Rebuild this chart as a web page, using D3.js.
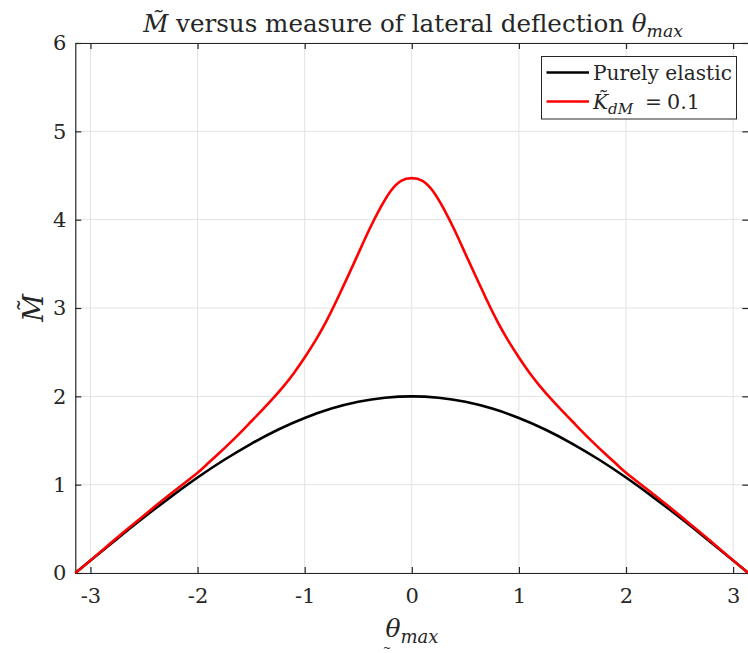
<!DOCTYPE html>
<html>
<head>
<meta charset="utf-8">
<script src="https://cdn.jsdelivr.net/npm/d3@7"></script>
<style>
  body { margin: 0; background: #fff; }
  svg { display: block; }
  text { font-family: "DejaVu Serif", serif; fill: #262626; }
</style>
</head>
<body>
<svg id="chart" width="748" height="653"></svg>
<script>
// Purely elastic response
const thetaElastic = [-3.1416, -3, -2.75, -2.5, -2.25, -2, -1.75, -1.5, -1.25, -1, -0.75, -0.5, -0.25, 0,
                      0.25, 0.5, 0.75, 1, 1.25, 1.5, 1.75, 2, 2.25, 2.5, 2.75, 3, 3.1416];
const mElastic = [0, 0.142, 0.389, 0.631, 0.862, 1.081, 1.282, 1.463, 1.622, 1.755, 1.861, 1.938, 1.984, 2.0,
                  1.984, 1.938, 1.861, 1.755, 1.622, 1.463, 1.282, 1.081, 0.862, 0.631, 0.389, 0.142, 0];

// Response with K_dM = 0.1
const thetaDamped = [-3.1416, -3.0, -2.8, -2.6, -2.4, -2.2, -2.0, -1.9, -1.8, -1.7, -1.6, -1.5, -1.4, -1.3, -1.2,
                     -1.1, -1.0, -0.9, -0.8, -0.7, -0.6, -0.5, -0.4, -0.3, -0.2, -0.1, 0,
                     0.1, 0.2, 0.3, 0.4, 0.5, 0.6, 0.7, 0.8, 0.9, 1.0, 1.1, 1.2, 1.3, 1.4, 1.5,
                     1.6, 1.7, 1.8, 1.9, 2.0, 2.2, 2.4, 2.6, 2.8, 3.0, 3.1416];
const mDamped = [0, 0.143, 0.35, 0.553, 0.752, 0.945, 1.135, 1.245, 1.355, 1.47, 1.59, 1.715, 1.84, 1.97, 2.11,
                 2.265, 2.44, 2.63, 2.845, 3.09, 3.35, 3.615, 3.88, 4.12, 4.32, 4.44, 4.47,
                 4.44, 4.32, 4.12, 3.88, 3.615, 3.35, 3.09, 2.845, 2.63, 2.44, 2.265, 2.11, 1.97, 1.84, 1.715,
                 1.59, 1.47, 1.355, 1.245, 1.135, 0.945, 0.752, 0.553, 0.35, 0.143, 0];

const xTicks = [-3, -2, -1, 0, 1, 2, 3];
const yTicks = [0, 1, 2, 3, 4, 5, 6];
const seriesNames = ["Purely elastic", "K_dM = 0.1"];
const seriesColors = ["#000000", "#ff0000"];

const svg = d3.select("#chart");
const L = 75.3, R = 748.3, T = 43, B = 573;
const axisColor = "#262626";
const gridColor = "#e3e3e3";
const serif = '"DejaVu Serif", serif';

const x = d3.scaleLinear().domain([-3.1416, 3.1416]).range([L, R]);
const y = d3.scaleLinear().domain([0, 6]).range([B, T]);

// grid
const grid = svg.append("g");
grid.selectAll(".gx").data(xTicks).join("line")
  .attr("x1", d => x(d)).attr("x2", d => x(d)).attr("y1", T).attr("y2", B)
  .attr("stroke", gridColor).attr("stroke-width", 1);
grid.selectAll(".gy").data(yTicks).join("line")
  .attr("y1", d => y(d)).attr("y2", d => y(d)).attr("x1", L).attr("x2", R)
  .attr("stroke", gridColor).attr("stroke-width", 1);

// axes (ticks pointing inward, mirrored on top and right)
const tickLen = 6;
const tickFont = 21;
const plainNum = d => String(d);
const styleAxis = g => {
  g.attr("font-family", serif).attr("font-size", tickFont);
  g.select(".domain").attr("stroke", axisColor).attr("stroke-width", 1.2);
  g.selectAll(".tick line").attr("stroke", axisColor).attr("stroke-width", 1.2);
  g.selectAll(".tick text").attr("fill", axisColor)
    .style("font-family", serif).style("font-size", tickFont + "px");
};
svg.append("g").attr("transform", `translate(0,${B})`)
  .call(d3.axisBottom(x).tickValues(xTicks).tickSizeInner(-tickLen).tickSizeOuter(0).tickPadding(13)
    .tickFormat(plainNum))
  .call(styleAxis)
  .call(g => g.selectAll(".tick text").attr("dy", "0.8em"));
svg.append("g").attr("transform", `translate(0,${T})`)
  .call(d3.axisTop(x).tickValues(xTicks).tickSizeInner(-tickLen).tickSizeOuter(0).tickFormat(""))
  .call(styleAxis);
svg.append("g").attr("transform", `translate(${L},0)`)
  .call(d3.axisLeft(y).tickValues(yTicks).tickSizeInner(-tickLen).tickSizeOuter(0).tickPadding(9)
    .tickFormat(plainNum))
  .call(styleAxis);
svg.append("g").attr("transform", `translate(${R},0)`)
  .call(d3.axisRight(y).tickValues(yTicks).tickSizeInner(-tickLen).tickSizeOuter(0).tickFormat(""))
  .call(styleAxis);

// curves
const line = d3.line().x(d => x(d[0])).y(d => y(d[1])).curve(d3.curveNatural);
const plotArea = svg.append("g");
plotArea.append("path")
  .datum(d3.zip(thetaElastic, mElastic))
  .attr("d", line).attr("fill", "none")
  .attr("stroke", seriesColors[0]).attr("stroke-width", 2.6).attr("stroke-linejoin", "round");
plotArea.append("path")
  .datum(d3.zip(thetaDamped, mDamped))
  .attr("d", line).attr("fill", "none")
  .attr("stroke", seriesColors[1]).attr("stroke-width", 2.6).attr("stroke-linejoin", "round");

// scale a text's font sizes so its rendered width matches a target width
function fitWidth(textSel, target, baseSizes) {
  const w = textSel.node().getComputedTextLength();
  const k = target / w;
  textSel.selectAll("tspan").each(function (_, i) {
    d3.select(this).style("font-size", (baseSizes[i] * k) + "px");
  });
  return k;
}

// title
const title = svg.append("text").attr("x", 413).attr("y", 32).attr("text-anchor", "middle");
const titleSizes = [20, 20, 20, 14];
title.append("tspan").style("font-style", "italic").style("font-size", "20px").text("M\u0303");
title.append("tspan").style("font-size", "20px").text(" versus measure of lateral deflection ");
title.append("tspan").style("font-style", "italic").style("font-size", "20px").text("\u03B8");
const titleSub = title.append("tspan").style("font-style", "italic").style("font-size", "14px").text("max");
const tk = fitWidth(title, 540, titleSizes);
titleSub.attr("dy", 4 * tk);

// x label
const xl = svg.append("text").attr("x", 412).attr("y", 637).attr("text-anchor", "middle");
xl.append("tspan").style("font-style", "italic").style("font-size", "25px").text("\u03B8");
xl.append("tspan").style("font-style", "italic").style("font-size", "18px").attr("dy", 6).text("max");
// small tilde at the bottom edge
svg.append("text").attr("x", 387).attr("y", 650.5).attr("text-anchor", "middle")
  .style("font-size", "10px").text("~");

// y label
svg.append("text").attr("transform", "translate(43,308) rotate(-90)")
  .attr("text-anchor", "middle").style("font-size", "27px").style("font-style", "italic").text("M\u0303");

// legend
const lg = svg.append("g");
lg.append("rect").attr("x", 541.5).attr("y", 56.5).attr("width", 195).attr("height", 62.5)
  .attr("fill", "#fff").attr("stroke", axisColor).attr("stroke-width", 1);
const rows = [72.5, 101.5];
let lk = 1;
seriesNames.forEach((name, i) => {
  lg.append("line").attr("x1", 546.5).attr("x2", 589).attr("y1", rows[i]).attr("y2", rows[i])
    .attr("stroke", seriesColors[i]).attr("stroke-width", 2.6);
  const t = lg.append("text").attr("x", 593).attr("y", rows[i] + 7).attr("fill", "#000");
  if (i === 0) {
    t.append("tspan").style("font-size", "20px").text(name);
    lk = fitWidth(t, 139, [20]);
  } else {
    const base = rows[i] + 7;
    t.append("tspan").style("font-style", "italic").style("font-size", (20 * lk) + "px").text("K\u0303");
    t.append("tspan").style("font-style", "italic").style("font-size", (15 * lk) + "px")
      .attr("y", base + 5).text("dM");
    t.append("tspan").style("font-size", (20 * lk) + "px").attr("x", 645).attr("y", base).text("=");
    t.append("tspan").style("font-size", (20.5 * lk) + "px").attr("x", 667).attr("y", base).text("0.1");
  }
});
</script>
</body>
</html>
